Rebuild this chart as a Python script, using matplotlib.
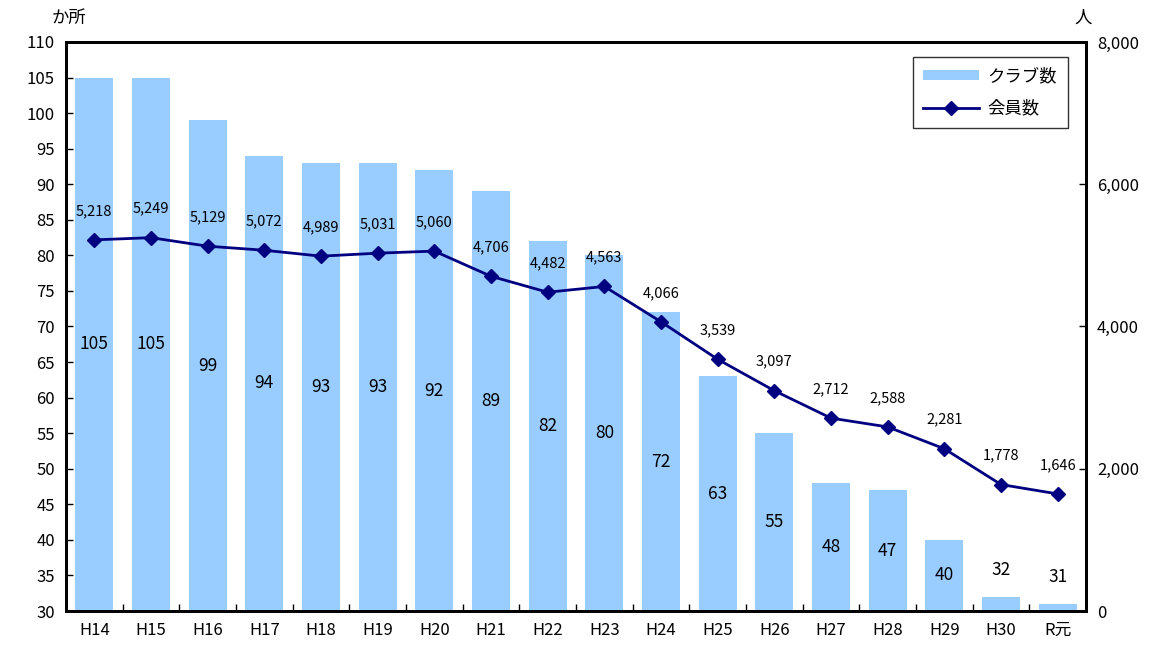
import numpy as np
import matplotlib.pyplot as plt

plt.rcParams['font.family'] = ['Noto Sans CJK JP', 'DejaVu Sans']

# data
years = ['H14', 'H15', 'H16', 'H17', 'H18', 'H19', 'H20', 'H21', 'H22',
         'H23', 'H24', 'H25', 'H26', 'H27', 'H28', 'H29', 'H30', 'R元']
clubs = [105, 105, 99, 94, 93, 93, 92, 89, 82, 80, 72, 63, 55, 48, 47, 40, 32, 31]
members = [5218, 5249, 5129, 5072, 4989, 5031, 5060, 4706, 4482, 4563,
           4066, 3539, 3097, 2712, 2588, 2281, 1778, 1646]

x = np.arange(len(years))

fig = plt.figure(figsize=(11.6, 6.48), dpi=100)
ax = fig.add_axes([66/1160, 1 - 611/648, (1086-66)/1160, (611-42)/648])
ax2 = ax.twinx()

bars = ax.bar(x, clubs, width=0.67, color='#99CCFF', label='クラブ数', zorder=2)
ax.set_ylim(30, 110)
ax.set_yticks(range(30, 111, 5))
ax.set_xlim(-0.5, len(years) - 0.5)
ax.set_xticks(x)
ax.set_xticklabels(years)
ax.set_xticks(np.arange(0.5, len(years) - 0.5, 1), minor=True)
ax.tick_params(axis='x', which='major', length=0, pad=8, labelsize=12)
ax.tick_params(axis='x', which='minor', direction='in', length=5, width=1)
ax.tick_params(axis='y', direction='in', length=5, width=1, labelsize=12, pad=8)

# bar labels
for xi, v in zip(x, clubs):
    mid = (30 + v) / 2
    if v - 30 >= 6:
        ax.text(xi, mid, str(v), ha='center', va='center', fontsize=12.5, zorder=4)
    else:
        ax.annotate(str(v), (xi, v), xytext=(0, 27), textcoords='offset pixels',
                    ha='center', va='center', fontsize=12.5, zorder=4)

line, = ax2.plot(x, members, color='#000080', lw=2, marker='D', markersize=7,
                 label='会員数', zorder=5)
ax2.set_ylim(0, 8000)
ax2.set_yticks(range(0, 8001, 2000))
ax2.set_yticklabels([f'{v:,}' for v in range(0, 8001, 2000)])
ax2.tick_params(axis='y', direction='in', length=5, width=1, labelsize=12, pad=8)

for xi, v in zip(x, members):
    ax2.annotate(f'{v:,}', (xi, v), xytext=(0, 29), textcoords='offset pixels',
                 ha='center', va='center', fontsize=10.5)

for a in (ax, ax2):
    for s in a.spines.values():
        s.set_linewidth(2)
        s.set_color('black')

ax.set_zorder(1)
ax2.set_zorder(2)
ax.patch.set_visible(False)

fig.text(52/1160, 1 - 18/648, 'か所', fontsize=12.5, ha='left', va='center')
fig.text(1083/1160, 1 - 18/648, '人', fontsize=12.5, ha='center', va='center')

leg = ax2.legend([bars, line], ['クラブ数', '会員数'], loc='upper right',
                 bbox_to_anchor=(0.982, 0.974), borderaxespad=0, fontsize=12.5,
                 frameon=True, fancybox=False, edgecolor='black',
                 handlelength=3.2, handleheight=0.5, handletextpad=0.5,
                 borderpad=0.6, labelspacing=0.8)
leg.get_frame().set_linewidth(1)

fig.savefig('out.png', dpi=100)
